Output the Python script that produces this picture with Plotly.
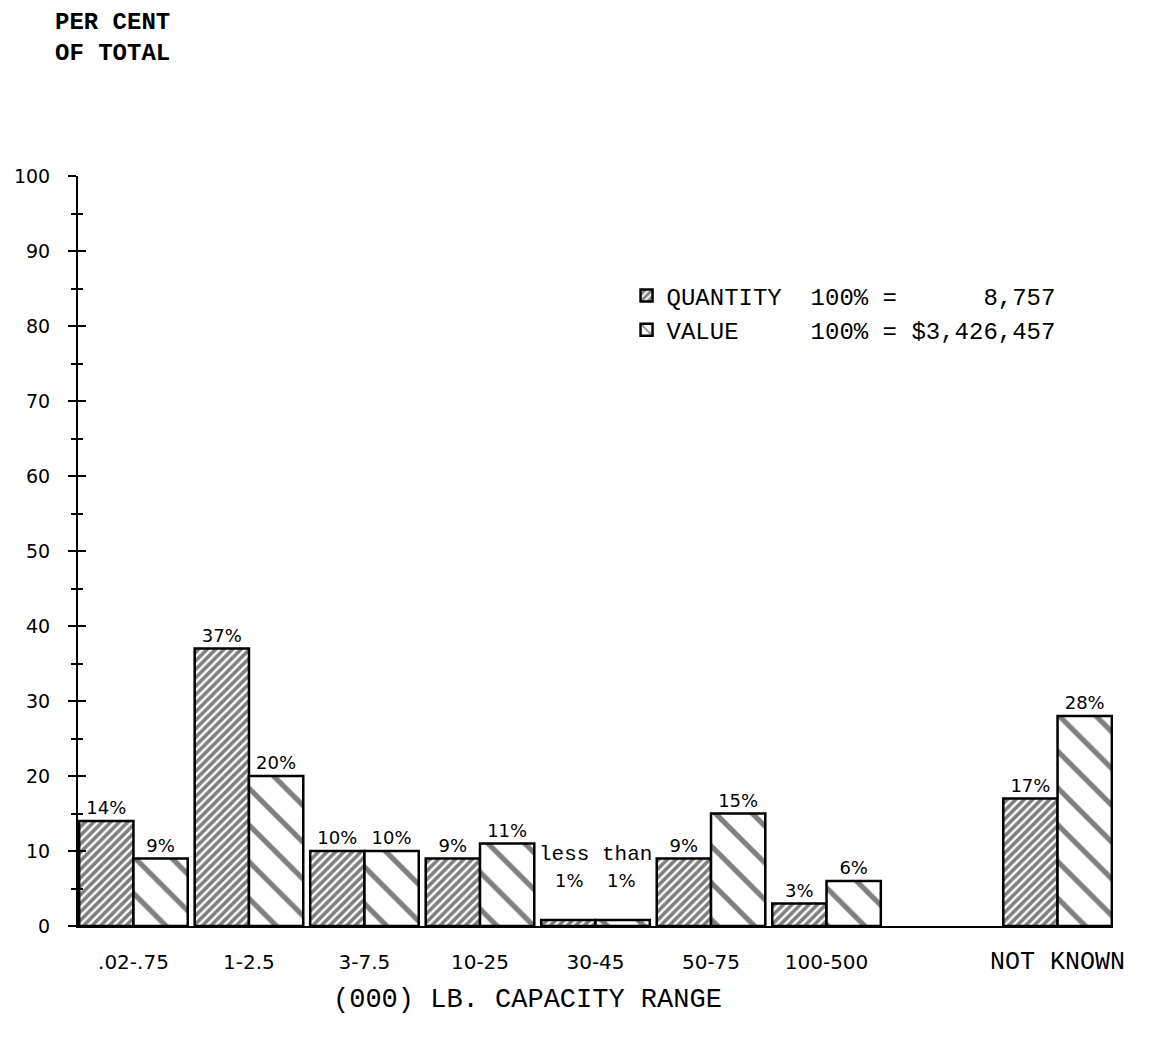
import plotly.graph_objects as go

categories = [".02-.75", "1-2.5", "3-7.5", "10-25", "30-45", "50-75", "100-500", "NOT KNOWN"]
positions = [0, 1, 2, 3, 4, 5, 6, 8]
quantity = [14, 37, 10, 9, 0.8, 9, 3, 17]
value = [9, 20, 10, 11, 0.8, 15, 6, 28]
quantity_labels = ["14%", "37%", "10%", "9%", "1%", "9%", "3%", "17%"]
value_labels = ["9%", "20%", "10%", "11%", "1%", "15%", "6%", "28%"]
y_ticks = [0, 10, 20, 30, 40, 50, 60, 70, 80, 90, 100]
SMALL_GROUP = 4  # index of the "less than 1%" group

MONO = "Liberation Mono"
SANS = "DejaVu Sans"
NB = "\u00a0"

tick_text = [c if c != "NOT KNOWN" else f'<span style="font-family:{MONO};font-size:25px">{c}</span>'
             for c in categories]

q_text = [("" if i == SMALL_GROUP else t) for i, t in enumerate(quantity_labels)]
v_text = [("" if i == SMALL_GROUP else t) for i, t in enumerate(value_labels)]

fig = go.Figure()
fig.add_trace(go.Bar(
    x=positions, y=quantity, text=q_text, textposition="outside",
    name="QUANTITY" + NB * 2 + "100%" + NB + "=" + NB * 6 + "8,757",
    marker=dict(color="white", line=dict(color="black", width=2.5),
                pattern=dict(shape="/", size=6, solidity=0.6, fgcolor="black", bgcolor="white")),
    textfont=dict(family=SANS, size=18, color="black"), cliponaxis=False,
))
fig.add_trace(go.Bar(
    x=positions, y=value, text=v_text, textposition="outside",
    name="VALUE" + NB * 5 + "100%" + NB + "=" + NB + "$3,426,457",
    marker=dict(color="white", line=dict(color="black", width=2.5),
                pattern=dict(shape="\\", size=26, solidity=0.2, fgcolor="black", bgcolor="white")),
    textfont=dict(family=SANS, size=18, color="black"), cliponaxis=False,
))
# helper trace so that the overlaid axis (crossing ticks) is drawn
fig.add_trace(go.Scatter(x=[None], y=[None], yaxis="y2", showlegend=False, hoverinfo="skip"))

# labels of the "less than 1%" group
fig.add_annotation(x=positions[SMALL_GROUP], y=quantity[SMALL_GROUP], xref="x", yref="y", text="less than",
                   showarrow=False, yshift=66, font=dict(family=MONO, size=21, color="black"))
fig.add_annotation(x=positions[SMALL_GROUP], y=quantity[SMALL_GROUP], xref="x", yref="y",
                   text=quantity_labels[SMALL_GROUP], showarrow=False, xshift=-26, yshift=40,
                   font=dict(family=SANS, size=18, color="black"))
fig.add_annotation(x=positions[SMALL_GROUP], y=value[SMALL_GROUP], xref="x", yref="y",
                   text=value_labels[SMALL_GROUP], showarrow=False, xshift=26, yshift=40,
                   font=dict(family=SANS, size=18, color="black"))

fig.add_annotation(xref="paper", yref="paper", x=-0.024, y=1.226, xanchor="left", yanchor="top",
                   text="<b>PER CENT<br>OF TOTAL</b>", showarrow=False, align="left",
                   font=dict(family=MONO, size=24, color="black"))
fig.add_annotation(xref="paper", yref="paper", x=0.434, y=-0.099, xanchor="center", yanchor="middle",
                   text="(000) LB. CAPACITY RANGE", showarrow=False,
                   font=dict(family=MONO, size=27, color="black"))

fig.update_layout(
    width=1133, height=1023,
    margin=dict(l=70, r=28, t=168, b=105),
    paper_bgcolor="white", plot_bgcolor="white",
    barmode="group", bargap=0.06, bargroupgap=0,
    showlegend=True,
    legend=dict(x=0.53, y=0.87, xanchor="left", yanchor="top",
                font=dict(family=MONO, size=24, color="black"),
                bgcolor="rgba(0,0,0,0)", tracegroupgap=0, itemwidth=30),
    xaxis=dict(range=[-0.48, 8.48], tickvals=positions, ticktext=tick_text, automargin=False,
               showline=True, linecolor="black", linewidth=2, ticks="",
               showgrid=False, zeroline=False, ticklabelstandoff=17,
               tickfont=dict(family=SANS, size=20, color="black")),
    yaxis=dict(range=[0, 100], tickvals=y_ticks, showline=True, linecolor="black", linewidth=2,
               automargin=False,
               ticks="outside", ticklen=8, tickwidth=2, tickcolor="black",
               minor=dict(dtick=5, ticks="outside", ticklen=5, tickwidth=2, tickcolor="black"),
               showgrid=False, zeroline=False, ticklabelstandoff=14,
               tickfont=dict(family=SANS, size=19, color="black")),
    yaxis2=dict(range=[0, 100], overlaying="y", side="left", anchor="x", tickvals=y_ticks,
                automargin=False,
                ticks="inside", ticklen=8, tickwidth=2, tickcolor="black",
                minor=dict(dtick=5, ticks="inside", ticklen=5, tickwidth=2, tickcolor="black"),
                showticklabels=False, showgrid=False, zeroline=False, showline=False),
)

fig.write_html("out.html")
